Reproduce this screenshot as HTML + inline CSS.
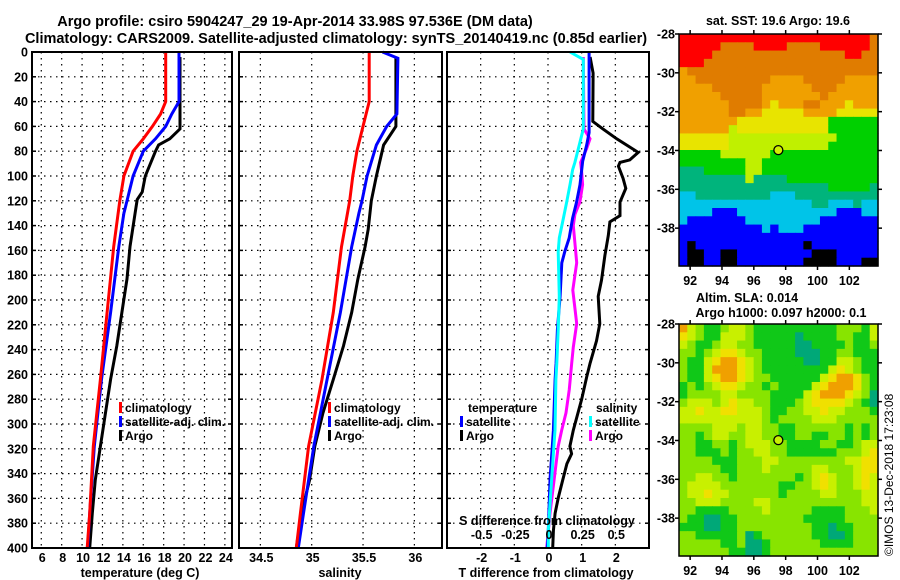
<!DOCTYPE html>
<html><head><meta charset="utf-8"><style>
html,body{margin:0;padding:0;background:#fff;}
svg{display:block;font-family:"Liberation Sans",Arial,sans-serif;font-weight:bold;}
</style></head><body>
<svg id="c" width="900" height="580" viewBox="0 0 900 580" xmlns="http://www.w3.org/2000/svg">
<text x="295" y="26" font-size="14.5" text-anchor="middle">Argo profile: csiro 5904247_29 19-Apr-2014 33.98S 97.536E (DM data)</text>
<text x="336" y="43" font-size="14.5" text-anchor="middle">Climatology: CARS2009. Satellite-adjusted climatology: synTS_20140419.nc (0.85d earlier)</text>
<text x="140" y="577" font-size="12.5" text-anchor="middle">temperature (deg C)</text>
<text x="340" y="577" font-size="12.5" text-anchor="middle">salinity</text>
<text x="546" y="577" font-size="12.5" text-anchor="middle">T difference from climatology</text>
<text x="778" y="25" font-size="12.5" text-anchor="middle">sat. SST: 19.6 Argo: 19.6</text>
<text x="747" y="302" font-size="12.5" text-anchor="middle">Altim. SLA: 0.014</text>
<text x="781" y="317" font-size="12.5" text-anchor="middle">Argo h1000: 0.097 h2000: 0.1</text>
<text transform="translate(893,556) rotate(-90)" font-size="12" font-weight="normal">©IMOS 13-Dec-2018 17:23:08</text>
</svg>
<script>
// ---- data ----
const depthTicks=[0,20,40,60,80,100,120,140,160,180,200,220,240,260,280,300,320,340,360,380,400];
const tempTicks=[6,8,10,12,14,16,18,20,22,24];
const salTicks=[34.5,35,35.5,36];
const tdiffTicks=[-2,-1,0,1,2];
const sdiffTicks=[-0.5,-0.25,0,0.25,0.5];
const sdiffTickLabels=["-0.5","-0.25","0","0.25","0.5"];

const tClimDepth=[0,40,50,60,70,80,100,120,157,210,264,318,372,400];
const tClimVal=[18.2,18.2,17.7,16.9,16.0,15.0,14.1,13.7,13.1,12.45,11.8,11.1,10.75,10.5];
const tSatDepth=[0,40,50,60,70,80,100,120,130,157,210,264,318,372,400];
const tSatVal=[19.5,19.5,18.8,18.2,17.2,16.0,15.0,14.4,14.1,13.6,12.8,11.9,11.2,10.75,10.55];
const tArgoDepth=[4,62,70,75,80,100,113,119,130,157,183,210,237,264,291,318,345,372,400];
const tArgoVal=[19.6,19.6,18.6,17.5,17.2,16.2,15.9,15.4,15.2,14.7,14.4,13.9,13.4,12.8,12.3,11.8,11.3,11.0,10.75];

const sClimDepth=[0,40,60,80,100,120,157,210,264,318,372,400];
const sClimVal=[35.56,35.56,35.50,35.44,35.40,35.37,35.29,35.21,35.10,34.97,34.89,34.85];
const sSatDepth=[0,5,50,60,75,100,120,130,157,210,264,318,372,400];
const sSatVal=[35.69,35.84,35.83,35.73,35.63,35.54,35.49,35.46,35.39,35.28,35.15,35.02,34.92,34.87];
const sArgoDepth=[4,60,75,100,120,143,157,183,210,237,264,291,318,345,372,400];
const sArgoVal=[35.82,35.82,35.70,35.63,35.58,35.55,35.52,35.45,35.39,35.31,35.21,35.11,35.03,34.98,34.90,34.85];

const dTSatDepth=[0,65,75,88,107,121,134,150,161,170,197,224,251,264,305,345,386,400];
const dTSatVal=[1.22,1.22,1.15,1.03,0.95,0.85,0.73,0.63,0.50,0.41,0.36,0.28,0.24,0.21,0.16,0.06,0.01,-0.02];
const dTArgoDepth=[4,17,56,62,70,81,87,89,92,102,110,121,132,137,148,164,184,197,219,233,251,262,280,305,318,324,332,345,359,372,386,400];
const dTArgoVal=[1.25,1.34,1.33,1.63,2.04,2.68,2.43,2.14,2.09,2.23,2.31,2.14,2.14,1.84,1.79,1.69,1.59,1.49,1.54,1.44,1.25,1.15,1.00,0.75,0.65,0.70,0.56,0.44,0.31,0.21,0.16,0.14];
const dSSatDepth=[0,6,62,73,89,95,107,121,134,150,161,197,224,251,264,305,345,386,400];
const dSSatVal=[0.163,0.262,0.262,0.237,0.200,0.183,0.163,0.139,0.114,0.084,0.076,0.084,0.076,0.065,0.059,0.052,0.027,0.002,0.002];
const dSArgoDepth=[4,62,70,78,89,97,107,121,131,140,161,170,192,219,238,251,272,291,305,318,345,372,400];
const dSArgoVal=[0.262,0.267,0.312,0.287,0.243,0.250,0.257,0.237,0.200,0.188,0.206,0.213,0.184,0.213,0.188,0.176,0.158,0.134,0.102,0.076,0.045,0.015,-0.010];

const latTicks=[-28,-30,-32,-34,-36,-38];
const lonTicks=[92,94,96,98,100,102];
const argoLon=97.54, argoLat=-33.98;
const sstRows=[
"RRRRRRRRRRRRRRRRRRRRRRRO","RRRRROOOORRRROOOORRRRRRO","RRRROOOOOOOOOOOOOOOORROO","RRROOOOOOOOOOOOOOOOOOOOO",
"oOOOOOOOOOOOOOOOOOOOOOOO","ooOOOOOOOOOooooOOOOOoooo","ooooOOOOOOooooooOOOooooo","oooooOOOOOoooooooOoooooo",
"ooooooOOOOoYoooOOoooYooo","ooooooOOooYYYYYooooYYYYY","oooooooYYYYYYYYYYYGGGGGG","ooooooyYYYYYYYYYYYGGGGGG",
"YYYYYYyyyyyyyyyyyyyGGGGG","YYYYYYyyyyyyyyyyyyGGGGGG","GGGGGyyyyyyGGGGGGGGGGGGG","GGGGGGGGyyGGGGGGGGGGGGGG",
"gggGGGGGyyGGGGGGGGGGGGGG","ggggggggyggggGGGGGGGGGGG","ggggggggggggggggggGGGGGg","ccgggggggggcccgggggggggg",
"ccccccccccccccccggcccgcc","ccccBBBccccccccccccBBBcc","cBBBBBBBcccccccccBBBBBBB","BBBBBBBBBBcBcccBBBBBBBBB",
"BBBBBBBBBBBBBBBBBBBBBBBB","BKBBBBBBBBBBBBBKBBBBBBBB","BKKBBKKBBBBBBBBBKKKBBBBB","BKKBBKKBBBBBBBBKKKKBBBKK"];
const slaRows=[
"OYLGGLYYLGGGGGGGGGGLLLGY","yYLGGYYYLGGGGGTGGGGLLGGY","YLGGLYYLLGGGGGTTGGGGLGGL","LLGLYyyYLLGGGGTTTGGLLGGG",
"LGGYyOOyYLGGGGGTTGGYYLGG","LGGYOOOyYLGGGGGGGGYyYLGG","LGGYyOOyYLLGGGGGGYyOOyLG","GLGLYyyYLLGLGGGGYyOOOyLG",
"GLLLLYYLLLLGGGGYyOOOyYLT","LYYYLYyYYLLGGGLYyyyyYLGT","YYyYYyyYYYLGGLLYYyYYLLLG","YYYYYYYYYYLGLLLLYYYLLLLL",
"LLLLYYYLYYLLGGLLLLLLGLGL","LLGLYYLLYYLLGGLLGGLLGLGL","LLGGLLGLYYYLLGGGGLLGGLYY","LLGGGLGLLYYLLGGGGGGLLLYy",
"LLLLGGGLLLYYLLLLLLLLYYyy","LLLLLGGLLLYLLLLLYYLLLYyy","LLYYLLGLLLLLLLGLYyYLLYyY","LYYYYLLLLLLLGGLLYyYLLYyY",
"LYYyYYLLLLLLGLLLLYYLLLYY","LLYYYLLLLYYLLLLLLLLLLLYY","LLGGGGLLLLYLLLLLGGGGLLLY","LGGTTGGLLLLLLLLGGGGGLLLL",
"GGGTTGGLLLLLLLLLGGTGGLLL","LLGGGGGLTGLLLLLLGGTTGLLL","LLLLLGGLTTGLLLLLLGGGGLLL","LLLLLLGGTTGLLLLLLLLLLLLL"];
</script>
<script>
const NS="http://www.w3.org/2000/svg", svg=document.getElementById('c');
function mk(tag,attrs,parent){const e=document.createElementNS(NS,tag);for(const k in attrs)e.setAttribute(k,attrs[k]);(parent||svg).appendChild(e);return e;}
const Y0=52,Y1=548;
const yD=d=>Y0+(d/400)*(Y1-Y0);
function lin(d0,d1,r0,r1){return v=>r0+(v-d0)/(d1-d0)*(r1-r0);}
const panels=[
 {x0:32,x1:232,sx:lin(5.09,24.7,32,232),ticks:tempTicks,labels:tempTicks.map(String),name:'temperature-panel'},
 {x0:239,x1:442,sx:lin(34.292,36.269,239,442),ticks:salTicks,labels:salTicks.map(String),name:'salinity-panel'},
 {x0:447,x1:649,sx:lin(-3,3,447,649),ticks:tdiffTicks,labels:tdiffTicks.map(String),name:'difference-panel'}];
depthTicks.forEach(d=>{const t=mk('text',{x:28,y:yD(d)+4.5,'font-size':12.5,'text-anchor':'end'});t.textContent=d;

});
panels.forEach(p=>{
 const g=mk('g',{});
 
 
 depthTicks.forEach(d=>{if(d>0&&d<400){const l=mk('line',{x1:p.x0,x2:p.x1,y1:yD(d),y2:yD(d),stroke:'#000','stroke-width':1.2,'stroke-dasharray':'1.5 4.5'},g);
 
 
 mk('line',{x1:p.x0,x2:p.x0+4,y1:yD(d),y2:yD(d),stroke:'#000','stroke-width':1.5},g);mk('line',{x1:p.x1-4,x2:p.x1,y1:yD(d),y2:yD(d),stroke:'#000','stroke-width':1.5},g);}});
 p.ticks.forEach((v,i)=>{const x=p.sx(v);const l=mk('line',{x1:x,x2:x,y1:Y0,y2:Y1,stroke:'#000','stroke-width':1.2,'stroke-dasharray':'1.5 4.5'},g);
 
 
 const t=mk('text',{x:x+1,y:562,'font-size':12.5,'text-anchor':'middle'},g);t.textContent=p.labels[i];
 
 });
 p.g=g;
});
function line(p,depths,vals,color,name,sx){
 const f=sx||p.sx;const pts=depths.map((d,i)=>f(vals[i]).toFixed(1)+','+yD(d).toFixed(1)).join(' ');
 const e=mk('polyline',{points:pts,fill:'none',stroke:color,'stroke-width':3,'stroke-linejoin':'miter'},p.g);
 
 
}
const P1=panels[0],P2=panels[1],P3=panels[2];
line(P1,tArgoDepth,tArgoVal,'#000','temperature-argo-line');
line(P1,tSatDepth,tSatVal,'#0000ff','temperature-satellite-line');
line(P1,tClimDepth,tClimVal,'#ff0000','temperature-climatology-line');
line(P2,sArgoDepth,sArgoVal,'#000','salinity-argo-line');
line(P2,sSatDepth,sSatVal,'#0000ff','salinity-satellite-line');
line(P2,sClimDepth,sClimVal,'#ff0000','salinity-climatology-line');
const sdx=lin(-0.75,0.75,447,649);
line(P3,dTArgoDepth,dTArgoVal,'#000','t-diff-argo-line');
line(P3,dSArgoDepth,dSArgoVal,'#ff00ff','s-diff-argo-line',sdx);
line(P3,dTSatDepth,dTSatVal,'#0000ff','t-diff-satellite-line');
line(P3,dSSatDepth,dSSatVal,'#00ffff','s-diff-satellite-line',sdx);
const sdt=mk('text',{x:547,y:525,'font-size':12.5,'text-anchor':'middle'});sdt.textContent='S difference from climatology';


sdiffTicks.forEach((v,i)=>{const t=mk('text',{x:sdx(v)+1,y:539,'font-size':12.5,'text-anchor':'middle'});t.textContent=sdiffTickLabels[i];

});
panels.forEach(p=>{const r=mk('rect',{x:p.x0,y:Y0,width:p.x1-p.x0,height:Y1-Y0,fill:'none',stroke:'#000','stroke-width':2});

});
function legend(x,y,color,label,name){
 mk('rect',{x:x,y:y-10,width:3,height:11,fill:color});
 const t=mk('text',{x:x+6,y:y,'font-size':12});t.textContent=label;
 
 
}
legend(119,412,'#ff0000','climatology','legend-climatology');
legend(119,426,'#0000ff','satellite-adj. clim.','legend-satellite-adj');
legend(119,440,'#000','Argo','legend-argo');
legend(328,412,'#ff0000','climatology','legend-sal-climatology');
legend(328,426,'#0000ff','satellite-adj. clim.','legend-sal-satellite-adj');
legend(328,440,'#000','Argo','legend-sal-argo');
let tt=mk('text',{x:468,y:412,'font-size':12});tt.textContent='temperature';


legend(460,426,'#0000ff','satellite','legend-t-satellite');
legend(460,440,'#000','Argo','legend-t-argo');
tt=mk('text',{x:596,y:412,'font-size':12});tt.textContent='salinity';


legend(589,426,'#00ffff','satellite','legend-s-satellite');
legend(589,440,'#ff00ff','Argo','legend-s-argo');
const sstCol={R:'#ff0000',O:'#e07c00',o:'#f0a000',Y:'#e8e400',y:'#c0f000',G:'#00d000',g:'#00b47c',c:'#00c4e8',B:'#0000ff',K:'#000000'};
const slaCol={O:'#f0a000',y:'#f0e000',Y:'#c8f000',L:'#88e400',G:'#10c818',T:'#00a878'};
function drawMap(rows,cols,top,name,filled){
 const mx0=679,mx1=878,my0=top,my1=top+232;
 const lonX=lin(91.3,103.8,mx0,mx1),latY=lin(-28,-39.95,my0,my1);
 const g=mk('g',{});
 
 
 const nr=rows.length,nc=rows[0].length,cw=(mx1-mx0)/nc,ch=(my1-my0)/nr;
 rows.forEach((row,r)=>{for(let c=0;c<nc;c++){const cell=mk('rect',{x:(mx0+c*cw).toFixed(2),y:(my0+r*ch).toFixed(2),width:(cw+0.6).toFixed(2),height:(ch+0.6).toFixed(2),fill:cols[row[c]]},g);
 
 }});
 const fr=mk('rect',{x:mx0,y:my0,width:mx1-mx0,height:my1-my0,fill:'none',stroke:'#000','stroke-width':1.5},g);
 
 
 latTicks.forEach(v=>{const y=latY(v);mk('line',{x1:mx1,x2:mx1+4,y1:y,y2:y,stroke:'#000','stroke-width':1.5});mk('line',{x1:mx0-4,x2:mx0,y1:y,y2:y,stroke:'#000','stroke-width':1.5});
 const t=mk('text',{x:675,y:y+4.5,'font-size':12.5,'text-anchor':'end'});t.textContent=v;
 
 });
 lonTicks.forEach(v=>{const x=lonX(v);mk('line',{x1:x,x2:x,y1:my0-4,y2:my0,stroke:'#000','stroke-width':1.5});mk('line',{x1:x,x2:x,y1:my1,y2:my1+4,stroke:'#000','stroke-width':1.5});
 const t=mk('text',{x:x,y:my1+19,'font-size':12.5,'text-anchor':'middle'});t.textContent=v;
 
 });
 const m=mk('circle',{cx:lonX(argoLon),cy:latY(argoLat),r:4.5,fill:filled,stroke:'#000','stroke-width':1.3});
 
 
}
drawMap(sstRows,sstCol,34,'sst-map','#d0f000');
drawMap(slaRows,slaCol,324,'sla-map','#c8f000');
</script>
</body></html>
